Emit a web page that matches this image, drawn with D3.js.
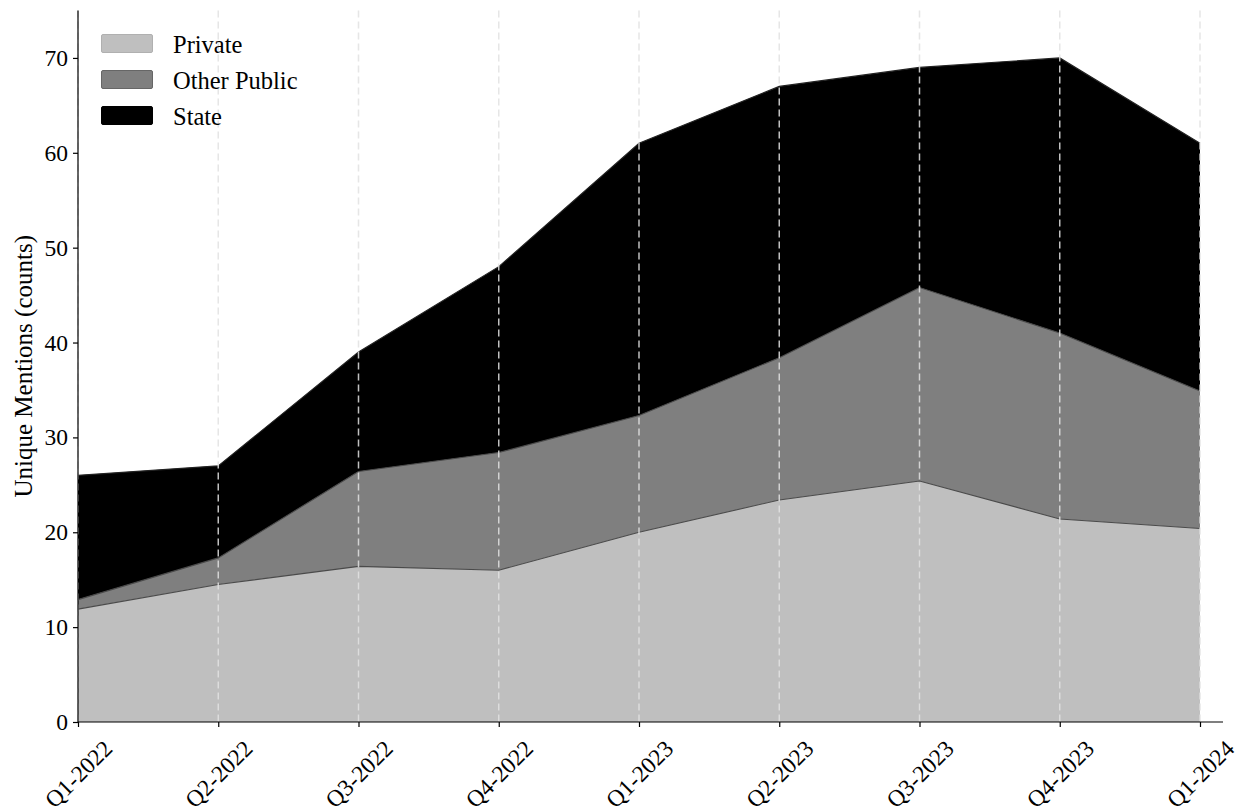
<!DOCTYPE html>
<html>
<head>
<meta charset="utf-8">
<script src="https://cdn.jsdelivr.net/npm/d3@7"></script>
<style>
  html, body { margin: 0; padding: 0; background: #fff; }
  svg { display: block; }
  svg text { font-family: "Times New Roman", "Liberation Serif", "DejaVu Serif", serif !important; fill: #000; }
</style>
</head>
<body>
<svg id="chart" width="1237" height="809"></svg>
<script>
const quarters = ["Q1-2022","Q2-2022","Q3-2022","Q4-2022","Q1-2023","Q2-2023","Q3-2023","Q4-2023","Q1-2024"];
const privateVals = [11.9, 14.5, 16.4, 16.0, 20.0, 23.4, 25.4, 21.4, 20.4];
const otherPublicVals = [1.0, 2.8, 10.0, 12.4, 12.3, 15.0, 20.4, 19.6, 14.5];
const stateVals = [13.1, 9.7, 12.6, 19.6, 28.7, 28.6, 23.2, 29.0, 26.1];
const seriesNames = ["Private", "Other Public", "State"];
const seriesKeys = ["private", "otherPublic", "state"];
const yTicks = [0, 10, 20, 30, 40, 50, 60, 70];

const colors = { private: "#bfbfbf", otherPublic: "#7f7f7f", state: "#000000" };
const legendEdge = { private: "#b0b0b0", otherPublic: "#666666", state: "#000000" };

const table = quarters.map((q, i) => ({
  q, i, private: privateVals[i], otherPublic: otherPublicVals[i], state: stateVals[i]
}));

const svg = d3.select("#chart");
const x0 = 78, x1 = 1200, xEnd = 1223, yBottom = 722, yTop = 10.5;
const FONT = '"Times New Roman", "Liberation Serif", "DejaVu Serif", serif';

const x = d3.scaleLinear().domain([0, quarters.length - 1]).range([x0, x1]);
const y = d3.scaleLinear().domain([0, 75]).range([yBottom, yTop]);

const stack = d3.stack().keys(seriesKeys);
const layers = stack(table);

const area = d3.area()
  .x(d => x(d.data.i))
  .y0(d => y(d[0]))
  .y1(d => y(d[1]));
const topLine = d3.line()
  .x(d => x(d.data.i))
  .y(d => y(d[1]));

const g = svg.append("g");
g.selectAll("path.layer").data(layers).enter().append("path")
  .attr("class", "layer")
  .attr("d", area)
  .attr("fill", d => colors[d.key]);

g.selectAll("path.edge").data(layers).enter().append("path")
  .attr("class", "edge")
  .attr("d", topLine)
  .attr("fill", "none")
  .attr("stroke", d => d.key === "state" ? "#222" : "#4a4a4a")
  .attr("stroke-width", 1.1);

// vertical dashed grid lines
g.selectAll("line.grid").data(quarters).enter().append("line")
  .attr("class", "grid")
  .attr("x1", (d, i) => x(i)).attr("x2", (d, i) => x(i))
  .attr("y1", yTop).attr("y2", yBottom)
  .attr("stroke", "#e2e2e2")
  .attr("stroke-opacity", 0.85)
  .attr("stroke-width", 1.5)
  .attr("stroke-dasharray", "7,4");

// y axis
const yAxis = d3.axisLeft(y).tickValues(yTicks).tickSize(5).tickPadding(5).tickFormat(d3.format("d"));
const yg = svg.append("g").attr("transform", `translate(${x0},0)`).call(yAxis).attr("font-family", FONT);
yg.select(".domain").attr("d", `M0,${yBottom}V${yTop}`).attr("stroke", "#000").attr("stroke-width", 1.2);
yg.selectAll(".tick line").attr("stroke", "#000").attr("stroke-width", 1.2);
yg.selectAll(".tick text").style("font-size", "23.5px").attr("fill", "#000");

// x axis
const xAxis = d3.axisBottom(x).tickValues(d3.range(quarters.length)).tickSize(5).tickFormat(i => quarters[i]);
const xg = svg.append("g").attr("transform", `translate(0,${yBottom})`).call(xAxis).attr("font-family", FONT);
xg.select(".domain").attr("d", `M${x0},0H${xEnd}`).attr("stroke", "#000").attr("stroke-width", 1.2);
xg.selectAll(".tick line").attr("stroke", "#000").attr("stroke-width", 1.2);
xg.selectAll(".tick text")
  .style("font-size", "23.5px").attr("fill", "#000")
  .attr("text-anchor", "middle")
  .attr("dominant-baseline", "central")
  .attr("dy", null)
  .attr("y", 0)
  .attr("transform", "translate(0,52) rotate(-45)");

// y label
svg.append("text")
  .attr("transform", `translate(23,${(yBottom + yTop) / 2}) rotate(-90)`)
  .attr("text-anchor", "middle")
  .attr("dominant-baseline", "central")
  .style("font-size", "25px")
  .text("Unique Mentions (counts)");

// legend
const legend = svg.append("g").attr("transform", "translate(101,34)");
seriesKeys.forEach((k, i) => {
  const row = legend.append("g").attr("transform", `translate(0,${i * 36})`);
  row.append("rect").attr("x", 0.5).attr("y", 0.5).attr("width", 51).attr("height", 18)
    .attr("rx", 1.5)
    .attr("fill", colors[k]).attr("stroke", legendEdge[k]).attr("stroke-width", 1);
  row.append("text").attr("x", 72).attr("y", 10).attr("dominant-baseline", "central")
    .style("font-size", "24.5px").text(seriesNames[i]);
});
</script>
</body>
</html>
